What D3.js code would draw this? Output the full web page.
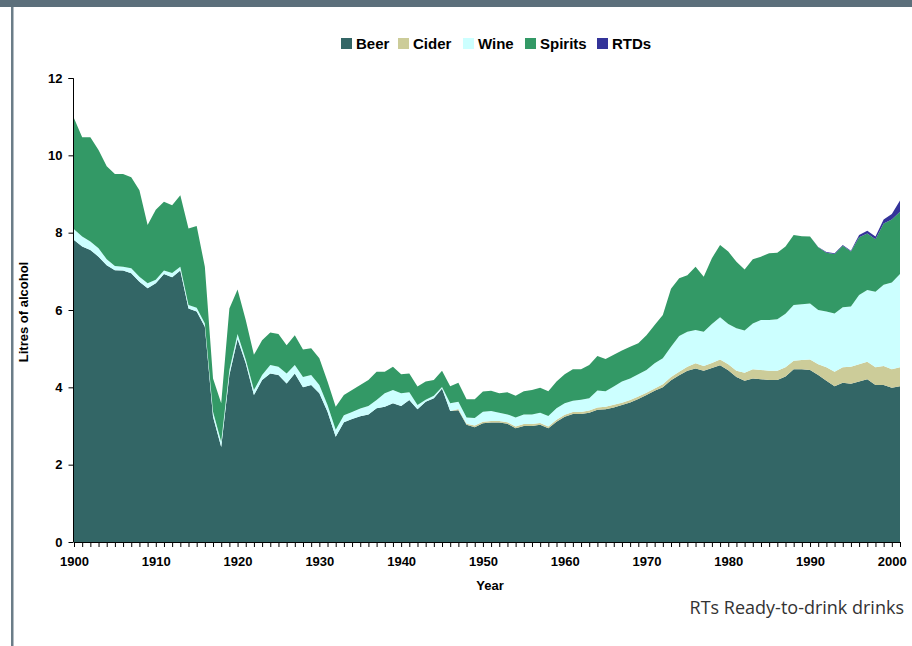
<!DOCTYPE html>
<html>
<head>
<meta charset="utf-8">
<script src="https://cdn.jsdelivr.net/npm/d3@7"></script>
<style>
  body { margin: 0; background: #fff; }
  svg { display: block; }
  .tick text { font-family: "Liberation Sans", Arial, sans-serif; font-weight: bold; font-size: 13px; fill: #000; }
  .axis path, .axis line { stroke: #000; stroke-width: 1; }
</style>
</head>
<body>
<div id="chart"></div>
<script>
// years 1900..2001, litres of pure alcohol per head
const years = d3.range(1900, 2002);

const beer = [
  7.81, 7.64, 7.55, 7.38, 7.16, 7.03, 7.02, 6.95, 6.73, 6.56,
  6.69, 6.93, 6.85, 7.02, 6.04, 5.96, 5.57, 3.24, 2.46, 4.32,
  5.25, 4.62, 3.80, 4.19, 4.36, 4.32, 4.10, 4.36, 4.00, 4.06,
  3.85, 3.37, 2.72, 3.10, 3.18, 3.25, 3.30, 3.46, 3.50, 3.59,
  3.52, 3.67, 3.43, 3.63, 3.72, 3.97, 3.39, 3.41, 3.03, 2.97,
  3.07, 3.09, 3.09, 3.06, 2.94, 3.00, 3.00, 3.03, 2.94, 3.11,
  3.24, 3.31, 3.31, 3.34, 3.42, 3.43, 3.48, 3.54, 3.61, 3.70,
  3.80, 3.91, 4.00, 4.18, 4.31, 4.43, 4.49, 4.43, 4.50, 4.57,
  4.44, 4.27, 4.17, 4.23, 4.21, 4.19, 4.19, 4.28, 4.47, 4.47,
  4.45, 4.32, 4.17, 4.03, 4.12, 4.09, 4.15, 4.21, 4.06, 4.06,
  3.99, 4.03
];

const cider = [
  0, 0, 0, 0, 0, 0, 0, 0, 0, 0,
  0, 0, 0, 0, 0, 0, 0, 0, 0, 0,
  0, 0, 0, 0, 0, 0, 0, 0, 0, 0,
  0, 0, 0, 0, 0, 0, 0, 0, 0, 0,
  0, 0, 0, 0, 0, 0, 0, 0.03, 0.03, 0.04,
  0.04, 0.04, 0.04, 0.04, 0.05, 0.05, 0.05, 0.05, 0.05, 0.05,
  0.05, 0.05, 0.05, 0.06, 0.06, 0.07, 0.07, 0.06, 0.06, 0.06,
  0.06, 0.06, 0.08, 0.09, 0.09, 0.10, 0.13, 0.12, 0.13, 0.15,
  0.16, 0.16, 0.21, 0.24, 0.24, 0.24, 0.24, 0.24, 0.22, 0.24,
  0.27, 0.28, 0.35, 0.37, 0.40, 0.44, 0.45, 0.45, 0.46, 0.49,
  0.48, 0.49
];

const wine = [
  0.28, 0.26, 0.22, 0.22, 0.15, 0.11, 0.10, 0.13, 0.13, 0.13,
  0.09, 0.09, 0.11, 0.10, 0.09, 0.10, 0.08, 0.13, 0.13, 0.13,
  0.13, 0.10, 0.13, 0.13, 0.22, 0.21, 0.26, 0.22, 0.27, 0.26,
  0.21, 0.17, 0.18, 0.18, 0.18, 0.20, 0.22, 0.21, 0.35, 0.34,
  0.33, 0.20, 0.11, 0.05, 0.06, 0.04, 0.20, 0.19, 0.16, 0.20,
  0.26, 0.26, 0.21, 0.20, 0.23, 0.25, 0.25, 0.26, 0.27, 0.30,
  0.30, 0.29, 0.32, 0.32, 0.44, 0.40, 0.47, 0.55, 0.56, 0.58,
  0.59, 0.65, 0.67, 0.78, 0.93, 0.91, 0.86, 0.89, 1.01, 1.09,
  1.04, 1.10, 1.09, 1.18, 1.29, 1.31, 1.33, 1.38, 1.44, 1.44,
  1.45, 1.40, 1.44, 1.51, 1.55, 1.56, 1.79, 1.86, 1.95, 2.10,
  2.24, 2.41
];

const spirits = [
  2.87, 2.57, 2.70, 2.54, 2.41, 2.38, 2.40, 2.35, 2.24, 1.51,
  1.81, 1.78, 1.75, 1.85, 1.98, 2.11, 1.47, 0.86, 1.00, 1.59,
  1.15, 1.02, 0.91, 0.90, 0.84, 0.85, 0.73, 0.77, 0.71, 0.69,
  0.69, 0.61, 0.60, 0.52, 0.57, 0.61, 0.67, 0.73, 0.55, 0.60,
  0.49, 0.49, 0.48, 0.47, 0.41, 0.42, 0.44, 0.49, 0.47, 0.48,
  0.52, 0.52, 0.51, 0.57, 0.56, 0.60, 0.63, 0.65, 0.64, 0.69,
  0.75, 0.82, 0.79, 0.86, 0.89, 0.83, 0.82, 0.80, 0.82, 0.80,
  0.90, 0.99, 1.12, 1.50, 1.49, 1.46, 1.64, 1.42, 1.70, 1.87,
  1.87, 1.72, 1.58, 1.66, 1.64, 1.73, 1.72, 1.74, 1.81, 1.76,
  1.73, 1.62, 1.52, 1.54, 1.59, 1.42, 1.49, 1.46, 1.36, 1.59,
  1.63, 1.61
];

const rtds = [
  0, 0, 0, 0, 0, 0, 0, 0, 0, 0,
  0, 0, 0, 0, 0, 0, 0, 0, 0, 0,
  0, 0, 0, 0, 0, 0, 0, 0, 0, 0,
  0, 0, 0, 0, 0, 0, 0, 0, 0, 0,
  0, 0, 0, 0, 0, 0, 0, 0, 0, 0,
  0, 0, 0, 0, 0, 0, 0, 0, 0, 0,
  0, 0, 0, 0, 0, 0, 0, 0, 0, 0,
  0, 0, 0, 0, 0, 0, 0, 0, 0, 0,
  0, 0, 0, 0, 0, 0, 0, 0, 0, 0,
  0, 0.01, 0.02, 0.02, 0.02, 0.02, 0.06, 0.07, 0.07, 0.10,
  0.14, 0.29
];

const seriesNames = ["Beer", "Cider", "Wine", "Spirits", "RTDs"];
const seriesColors = ["#336666", "#cccc99", "#ccffff", "#339966", "#333399"];
const yTicks = [0, 2, 4, 6, 8, 10, 12];

const width = 912;
const height = 646;

const svg = d3.select("#chart").append("svg")
  .attr("width", width)
  .attr("height", height);

// frame
svg.append("rect").attr("x", 0).attr("y", 0).attr("width", width).attr("height", 7).attr("fill", "#5c6f7b");
svg.append("rect").attr("x", 11).attr("y", 7).attr("width", 2.5).attr("height", height - 7).attr("fill", "#6b7d88");

const table = years.map((yr, i) => ({
  year: yr,
  Beer: beer[i],
  Cider: cider[i],
  Wine: wine[i],
  Spirits: spirits[i],
  RTDs: rtds[i]
}));

const x = d3.scaleLinear().domain([1900, 2001]).range([74, 900]);
const y = d3.scaleLinear().domain([0, 12]).range([542, 78]);
const color = d3.scaleOrdinal(seriesNames, seriesColors);

const stacked = d3.stack().keys(seriesNames)(table);

const area = d3.area()
  .x(d => x(d.data.year))
  .y0(d => y(d[0]))
  .y1(d => y(d[1]));

svg.append("g")
  .selectAll("path")
  .data(stacked)
  .enter()
  .append("path")
  .attr("fill", d => color(d.key))
  .attr("d", area);

// axes
const xAxis = d3.axisBottom(x)
  .tickValues(years)
  .tickSize(5)
  .tickPadding(10)
  .tickFormat(d => d % 10 === 0 ? d : "");

svg.append("g")
  .attr("class", "axis")
  .attr("transform", "translate(0,542)")
  .call(xAxis)
  .call(g => g.select(".domain").attr("d", "M74,0.5H900"));

const yAxis = d3.axisLeft(y)
  .tickValues(yTicks)
  .tickSize(5)
  .tickPadding(6);

svg.append("g")
  .attr("class", "axis")
  .attr("transform", "translate(73.5,0)")
  .call(yAxis)
  .call(g => g.select(".domain").attr("d", "M-5,78.5H0V542"));

// axis titles
svg.append("text")
  .attr("x", 490)
  .attr("y", 590)
  .attr("text-anchor", "middle")
  .style("font-family", "Liberation Sans, Arial, sans-serif")
  .style("font-weight", "bold")
  .style("font-size", "13px")
  .text("Year");

svg.append("text")
  .attr("transform", "translate(28,312) rotate(-90)")
  .attr("text-anchor", "middle")
  .style("font-family", "Liberation Sans, Arial, sans-serif")
  .style("font-weight", "bold")
  .style("font-size", "13px")
  .text("Litres of alcohol");

// legend
const legendX = [341, 398, 463, 525, 597];
const legend = svg.append("g").attr("class", "legend");
seriesNames.forEach((name, i) => {
  legend.append("rect")
    .attr("x", legendX[i])
    .attr("y", 38)
    .attr("width", 11)
    .attr("height", 11)
    .attr("fill", color(name));
  legend.append("text")
    .attr("x", legendX[i] + 15)
    .attr("y", 49)
    .style("font-family", "Liberation Sans, Arial, sans-serif")
    .style("font-weight", "bold")
    .style("font-size", "15px")
    .text(name);
});

// note
svg.append("text")
  .attr("x", 904)
  .attr("y", 614)
  .attr("text-anchor", "end")
  .style("font-family", "Liberation Sans Narrow, Open Sans, sans-serif")
  .style("font-size", "18px")
  .style("fill", "#333")
  .text("RTs Ready-to-drink drinks");
</script>
</body>
</html>
